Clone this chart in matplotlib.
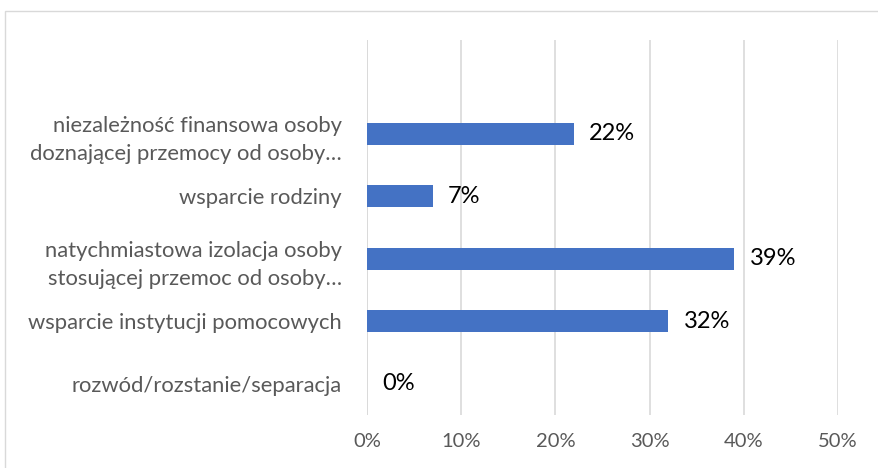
import matplotlib
matplotlib.use("Agg")
from matplotlib import pyplot as plt
from matplotlib.patches import Rectangle
from matplotlib.ticker import PercentFormatter
import numpy as np

# Kategorie od dołu do góry (tak jak rysuje barh)
kategorie = [
    "rozwód/rozstanie/separacja",
    "wsparcie instytucji pomocowych",
    "natychmiastowa izolacja osoby\nstosującej przemoc od osoby…",
    "wsparcie rodziny",
    "niezależność finansowa osoby\ndoznającej przemocy od osoby…",
]
wartosci = [0.00, 0.32, 0.39, 0.07, 0.22]
etykiety_x = [0.0, 0.1, 0.2, 0.3, 0.4, 0.5]

plt.rcParams['font.family'] = ['Lato', 'DejaVu Sans']

fig = plt.figure(figsize=(8.79, 4.68), dpi=100)
W, H = 879, 468

# ramka wykresu (ucięta z prawej i z dołu)
fig.patches.append(Rectangle((5 / W, -0.1), 1.2, 1 - 11 / H + 0.1,
                             transform=fig.transFigure, fill=False,
                             edgecolor='#d9d9d9', linewidth=1))

ax = fig.add_axes([367 / W, 1 - 415 / H, (838 - 367) / W, (415 - 40) / H])

y = np.arange(len(kategorie))
ax.barh(y, wartosci, height=0.35, color='#4472C4', zorder=3)

for yi, v in zip(y, wartosci):
    ax.text(v + 0.016, yi, f"{v * 100:.0f}%", va='center', ha='left',
            fontsize=17, color='black')

ax.set_xlim(0, 0.5)
ax.set_ylim(-0.5, 5.5)
ax.set_xticks(etykiety_x)
ax.xaxis.set_major_formatter(PercentFormatter(1.0, decimals=0))
ax.set_yticks(y)
ax.set_yticklabels(kategorie, linespacing=1.5)

ax.grid(True, axis='x', color='#d9d9d9', linewidth=1.2, zorder=0)
for s in ax.spines.values():
    s.set_visible(False)
ax.axvline(0, color='#d9d9d9', linewidth=1.2, zorder=1)

ax.tick_params(axis='both', length=0, colors='#595959')
ax.tick_params(axis='y', pad=18, labelsize=15.8)
ax.tick_params(axis='x', pad=13, labelsize=14.5)

fig.savefig("out.png", dpi=100)
